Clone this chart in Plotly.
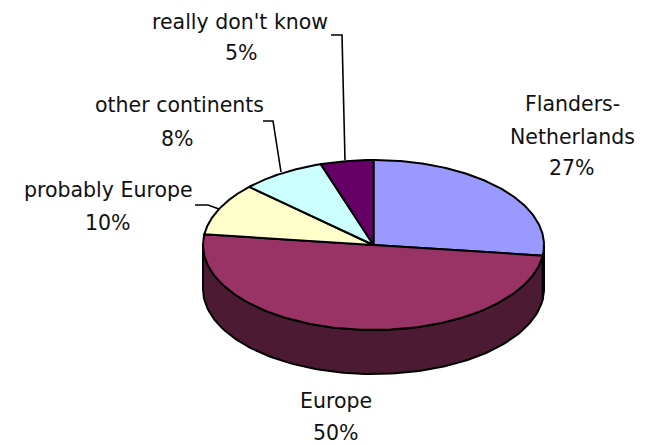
import numpy as np
import plotly.graph_objects as go

categories = ["Flanders-Netherlands", "Europe", "probably Europe", "other continents", "really don't know"]
values = [27, 50, 10, 8, 5]
colors = ["#9999FF", "#993366", "#FFFFCC", "#CCFFFF", "#660066"]
side_colors = ["#4D4D80", "#4D1A33", "#808066", "#668080", "#330033"]

# label lines: (category index, line text, centre x, y)
label_lines = [
    (4, "really don't know", 240, 22), (4, "5%", 241, 53),
    (3, "other continents", 179, 105), (3, "8%", 177, 139),
    (2, "probably Europe", 108, 190), (2, "10%", 108, 223),
    (0, "Flanders-", 572, 104), (0, "Netherlands", 572, 137), (0, "27%", 572, 168),
    (1, "Europe", 336, 401), (1, "50%", 336, 433),
]
leaders = [
    ([331, 342, 345], [35, 35, 160]),
    ([263, 273, 281], [121, 121, 172]),
    ([195, 208, 219], [205, 205, 209]),
]

cx, cy, rx, ry, depth = 373.5, 245.0, 170.5, 85.0, 44.0
LINE = dict(color="black", width=2)


def point(theta, dy=0.0):
    return cx + rx * np.sin(theta), cy - ry * np.cos(theta) + dy


fig = go.Figure()
edges = np.cumsum([0] + values) / sum(values) * 2 * np.pi

# rim of the disc (only the front half is visible)
for i, v in enumerate(values):
    a, b = max(edges[i], np.pi / 2), min(edges[i + 1], 3 * np.pi / 2)
    if a >= b:
        continue
    t = np.linspace(a, b, 120)
    x1, y1 = point(t)
    x2, y2 = point(t[::-1], depth)
    fig.add_trace(go.Scatter(
        x=np.r_[x1, x2, x1[0]], y=np.r_[y1, y2, y1[0]], mode="lines",
        fill="toself", fillcolor=side_colors[i], line=LINE, hoverinfo="skip",
    ))

# top faces
for i, v in enumerate(values):
    t = np.linspace(edges[i], edges[i + 1], 160)
    x, y = point(t)
    fig.add_trace(go.Scatter(
        x=np.r_[cx, x, cx], y=np.r_[cy, y, cy], mode="lines",
        fill="toself", fillcolor=colors[i], line=LINE,
        name=categories[i], hoverinfo="skip",
    ))

for lx, ly in leaders:
    fig.add_trace(go.Scatter(x=lx, y=ly, mode="lines", line=dict(color="black", width=1.6), hoverinfo="skip"))

annotations = [
    dict(x=x, y=y, text=txt, showarrow=False, xanchor="center", yanchor="middle",
         font=dict(family="DejaVu Sans, sans-serif", size=20.5, color="#111111"))
    for _, txt, x, y in label_lines
]

fig.update_layout(
    width=649, height=445, autosize=False, showlegend=False,
    margin=dict(l=0, r=0, t=0, b=0),
    paper_bgcolor="white", plot_bgcolor="white",
    xaxis=dict(range=[0, 649], visible=False, fixedrange=True),
    yaxis=dict(range=[445, 0], visible=False, fixedrange=True),
    annotations=annotations,
)
fig.write_html("out.html", config=dict(displayModeBar=False),
               post_script="document.body.style.margin='0';document.body.style.overflow='hidden';")
